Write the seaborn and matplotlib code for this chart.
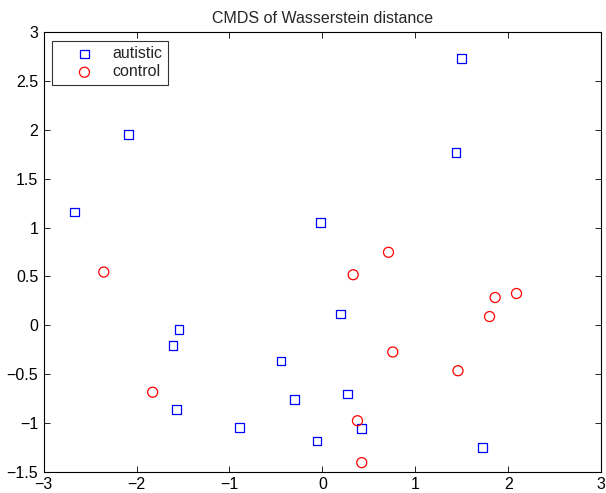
import matplotlib
matplotlib.use("Agg")
import matplotlib.pyplot as plt
import seaborn as sns
import pandas as pd

autistic_x = [1.50, 1.44, -2.085, -2.67, -0.023, 0.194, -1.543, -1.606, -0.445,
              -1.568, -0.891, -0.299, 0.269, 0.424, -0.056, 1.722]
autistic_y = [2.73, 1.767, 1.952, 1.161, 1.051, 0.116, -0.041, -0.205, -0.366,
              -0.861, -1.05, -0.758, -0.706, -1.06, -1.184, -1.253]
control_x = [-2.353, 0.712, 0.332, 2.09, 1.86, 1.80, 0.758, 1.46, -1.827, 0.378, 0.424]
control_y = [0.545, 0.747, 0.517, 0.325, 0.284, 0.089, -0.274, -0.466, -0.686, -0.978, -1.407]
groups = ["autistic", "control"]
x_ticks = [-3, -2, -1, 0, 1, 2, 3]
y_ticks = [-1.5, -1, -0.5, 0, 0.5, 1, 1.5, 2, 2.5, 3]
title = "CMDS of Wasserstein distance"

df = pd.DataFrame({
    "x": autistic_x + control_x,
    "y": autistic_y + control_y,
    "group": [groups[0]] * len(autistic_x) + [groups[1]] * len(control_x),
})

FS = 11.5
sns.set_style("white")
plt.rcParams["font.family"] = ["Liberation Sans", "DejaVu Sans"]
plt.rcParams["font.size"] = FS

fig = plt.figure(figsize=(6.06, 4.93), dpi=100)
ax = fig.add_axes([0.0721, 0.0432, 0.9197, 0.8913])

palette = {"autistic": "#0000ff", "control": "#ff0000"}
markers = {"autistic": "s", "control": "o"}

for g in groups:
    sub = df[df["group"] == g]
    sns.scatterplot(data=sub, x="x", y="y", ax=ax, marker=markers[g],
                    facecolor="none", edgecolor=palette[g], linewidth=0.9,
                    s=38 if g == "autistic" else 52, label=g)

ax.set_xlim(-3, 3)
ax.set_ylim(-1.5, 3)
ax.set_xticks(x_ticks)
ax.set_yticks(y_ticks)
ax.set_xticklabels([f"{t:g}".replace("-", "\u2212") for t in x_ticks])
ax.set_yticklabels([f"{t:g}".replace("-", "\u2212") for t in y_ticks])
ax.set_xlabel("")
ax.set_ylabel("")
ax.tick_params(direction="in", length=4.5, width=0.6, top=True, right=True,
               bottom=True, left=True, pad=4, labelsize=FS, colors="black")
for sp in ax.spines.values():
    sp.set_visible(True)
    sp.set_color("black")
    sp.set_linewidth(0.8)
ax.set_title(title, fontsize=FS, pad=7)

leg = ax.legend(loc="upper left", bbox_to_anchor=(0.0144, 0.981),
                borderaxespad=0, frameon=True, fancybox=False, shadow=False,
                handlelength=3.4, handletextpad=0.05, labelspacing=0.2,
                borderpad=0.35, fontsize=FS)
leg.get_frame().set_edgecolor("black")
leg.get_frame().set_linewidth(0.8)

fig.savefig("out.png", dpi=100)
